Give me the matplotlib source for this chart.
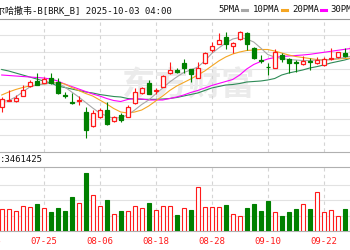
import matplotlib
matplotlib.use("Agg")
import matplotlib.pyplot as plt
import matplotlib.transforms as mtransforms
from matplotlib.lines import Line2D
from matplotlib.patches import Rectangle

# daily bars 07-17 .. 09-26 (prices in USD, volume in millions of shares)
dates = ["07-17", "07-18", "07-21", "07-22", "07-23", "07-24", "07-25", "07-28", "07-29", "07-30",
         "07-31", "08-01", "08-04", "08-05", "08-06", "08-07", "08-08", "08-11", "08-12", "08-13",
         "08-14", "08-15", "08-18", "08-19", "08-20", "08-21", "08-22", "08-25", "08-26", "08-27",
         "08-28", "08-29", "09-02", "09-03", "09-04", "09-05", "09-08", "09-09", "09-10", "09-11",
         "09-12", "09-15", "09-16", "09-17", "09-18", "09-19", "09-22", "09-23", "09-24", "09-25",
         "09-26"]
opens = [473.4, 475.4, 475.3, 476.8, 479.8, 481.3, 480.6, 482.1, 481.1, 477.0,
         475.1, 475.45, 472.1, 467.8, 470.6, 472.6, 469.3, 471.1, 470.6, 474.6,
         477.6, 480.8, 478.45, 479.6, 483.6, 484.45, 486.6, 484.8, 482.1, 486.6,
         490.6, 492.4, 494.4, 491.8, 493.8, 495.8, 491.1, 487.6, 485.65, 485.1,
         489.1, 487.8, 487.1, 486.4, 487.2, 486.8, 486.1, 487.8, 488.4, 489.6,
         489.6]
highs = [476.5, 478.6, 477.1, 480.1, 481.6, 483.6, 482.4, 483.6, 482.1, 478.1,
         477.6, 476.8, 473.6, 472.6, 473.1, 475.1, 470.8, 471.6, 474.1, 479.1,
         479.6, 481.6, 479.1, 483.1, 487.1, 485.1, 487.8, 484.9, 487.1, 490.1,
         493.1, 495.8, 496.1, 493.1, 496.4, 496.1, 491.4, 489.1, 486.6, 490.8,
         489.6, 488.1, 487.6, 488.8, 488.1, 488.4, 488.6, 491.1, 490.15, 491.1,
         492.4]
lows = [472.1, 475.3, 475.1, 476.7, 479.6, 480.0, 480.55, 480.4, 477.4, 476.1,
        474.4, 474.1, 464.1, 467.6, 470.1, 468.2, 469.1, 469.1, 470.4, 474.5,
        477.4, 477.3, 477.4, 479.4, 483.4, 483.6, 483.6, 481.1, 482.05, 486.4,
        490.1, 492.3, 490.8, 489.6, 493.6, 490.6, 487.8, 486.6, 483.1, 485.05,
        487.1, 483.6, 484.1, 486.1, 484.6, 486.4, 485.8, 487.75, 488.1, 488.6,
        489.6]
closes = [475.9, 475.6, 476.3, 478.6, 481.1, 480.1, 481.9, 480.6, 477.8, 476.8,
          474.6, 475.6, 466.6, 471.6, 472.6, 468.3, 470.6, 469.6, 473.4, 478.1,
          479.1, 477.4, 478.6, 482.8, 484.6, 484.1, 485.1, 483.4, 485.1, 489.6,
          491.8, 493.6, 492.4, 492.8, 496.1, 492.4, 488.1, 487.45, 485.5, 490.1,
          487.8, 486.6, 486.6, 487.4, 487.0, 487.6, 487.8, 488.1, 490.1, 488.8,
          491.8]
volumes = [1.42, 1.42, 1.31, 1.61, 1.55, 1.78, 1.50, 1.24, 1.48, 1.31,
           2.20, 1.83, 3.77, 2.37, 1.61, 2.01, 1.11, 1.31, 1.31, 1.61,
           1.48, 1.83, 1.37, 1.65, 1.65, 1.05, 1.50, 1.37, 2.90, 1.57,
           1.59, 1.59, 1.72, 1.11, 1.00, 1.50, 1.76, 1.33, 1.98, 1.24,
           1.00, 1.26, 1.42, 1.76, 1.42, 2.53, 1.22, 1.35, 0.96, 1.42,
           1.31]
vol_up = [1, 1, 1, 1, 1, 0, 1, 0, 0, 0,
          0, 1, 0, 1, 1, 0, 1, 0, 1, 1,
          1, 0, 1, 1, 1, 0, 1, 0, 1, 1,
          1, 1, 0, 1, 1, 0, 0, 0, 0, 1,
          0, 0, 0, 1, 0, 1, 1, 1, 1, 0,
          0]
ma5 = [475.15, 475.45, 476.5, 478.0, 479.5, 480.1, 480.4, 480.6, 480.7, 479.5,
       478.0, 476.5, 474.85, 473.2, 471.7, 470.8, 470.1, 470.35, 471.1, 472.6,
       474.25, 475.6, 477.4, 479.2, 481.0, 482.5, 483.85, 484.6, 485.5, 487.3,
       489.55, 491.2, 492.7, 493.9, 494.35, 493.9, 493.0, 491.2, 489.25, 488.5,
       488.05, 487.75, 487.6, 487.45, 487.45, 487.6, 487.6, 487.75, 488.05, 488.35,
       488.8]
ma10 = [477.1, 478.0, 478.75, 479.35, 479.8, 480.1, 480.4, 480.7, 480.85, 480.4,
        479.35, 478.45, 477.55, 476.8, 475.6, 474.4, 473.05, 472.0, 471.7, 472.0,
        472.6, 473.8, 475.3, 476.8, 478.45, 479.8, 480.85, 481.9, 483.1, 484.3,
        485.8, 487.3, 488.5, 489.4, 490.0, 490.45, 490.6, 490.75, 490.75, 490.3,
        489.7, 489.1, 488.65, 488.35, 488.05, 487.75, 487.6, 487.75, 487.9, 488.05,
        488.2]
ma20 = [483.1, 482.95, 482.8, 482.65, 482.5, 482.35, 482.2, 481.9, 481.3, 480.4,
        479.65, 478.9, 478.15, 477.4, 476.8, 476.05, 475.45, 475.15, 475.75, 476.05,
        475.9, 475.6, 475.6, 475.6, 476.05, 476.5, 477.1, 477.85, 478.45, 479.2,
        479.95, 480.55, 481.15, 481.75, 483.1, 484.9, 486.25, 487.15, 487.9, 488.35,
        488.65, 488.8, 488.95, 489.1, 489.3, 489.6, 489.9, 490.2, 490.5, 490.8,
        491.1]
ma30 = [484.75, 484.3, 483.7, 483.1, 482.5, 481.9, 481.3, 480.7, 479.8, 479.35,
        478.9, 478.45, 478.0, 477.7, 477.25, 476.95, 476.65, 476.5, 476.05, 475.9,
        475.8, 475.8, 475.8, 475.9, 476.05, 476.35, 476.8, 477.25, 477.7, 478.45,
        479.2, 479.65, 480.1, 480.25, 480.55, 481.0, 481.15, 481.3, 481.6, 482.05,
        483.1, 483.7, 484.15, 484.6, 485.2, 485.6, 486.1, 486.7, 487.15, 487.6,
        488.2]
tick_labels = ["07-15", "07-25", "08-06", "08-18", "08-28", "09-10", "09-22"]
ma_names = ["5PMA", "10PMA", "20PMA", "30PMA"]
title = "伯克希尔哈撒韦-B[BRK_B] 2025-10-03 04:00"
vol_text = ":3461425"

RED = "#ff1a1a"
GREEN = "#008000"
ma_colors = ["#a8a8a8", "#f5a623", "#ff00ff", "#2e8b57"]
FONT = ["DejaVu Sans Mono", "Noto Sans CJK SC"]
FS = 6.5

W, H = 350, 250


def box(x0, y0, x1, y1):
    return [x0 / W, 1 - y1 / H, (x1 - x0) / W, (y1 - y0) / H]


fig = plt.figure(figsize=(3.5, 2.5), dpi=100)
ax = fig.add_axes(box(0, 19, 350, 152))
axv = fig.add_axes(box(0, 167, 350, 231))

n = len(dates)
xs = list(range(n))
tick_pos = list(range(-2, n, 8))
xlim = (-0.243, 49.757)

# price panel
for i in xs:
    up = closes[i] >= opens[i]
    c = RED if up else GREEN
    ax.vlines(i, lows[i], highs[i], color=c, lw=0.8, zorder=3)
    lo = min(opens[i], closes[i])
    h = max(abs(closes[i] - opens[i]), 0.05)
    ax.add_patch(Rectangle((i - 0.3, lo), 0.6, h, facecolor="white" if up else GREEN,
                           edgecolor=c, lw=0.9, zorder=4))
for vals, col in zip([ma30, ma20, ma10, ma5], ma_colors[::-1]):
    ax.plot(xs, vals, color=col, lw=0.8, zorder=2)

ax.set_xlim(*xlim)
ax.set_ylim(460, 499.9)
ax.set_yticks(range(465, 500, 5))
ax.yaxis.grid(True, color="#e2e2e2", lw=0.8)
ax.set_axisbelow(True)
ax.text(188 / W, 1 - 86 / H, "东方财富", transform=fig.transFigure, ha="center", va="center",
        fontsize=24, fontweight="bold", color="#ebebeb", family="Noto Sans CJK SC", zorder=1)

# volume panel
axv.bar(xs, volumes, width=0.62,
        color=["white" if u else GREEN for u in vol_up],
        edgecolor=[RED if u else GREEN for u in vol_up], lw=0.8, zorder=3)
axv.set_xlim(*xlim)
axv.set_ylim(0, 4.18)
axv.set_yticks([1, 2, 3])
axv.yaxis.grid(True, color="#e2e2e2", lw=0.8)
axv.set_axisbelow(True)

for a in (ax, axv):
    for p in tick_pos:
        a.axvline(p, color="#d4d4d4", lw=0.8, ls=(0, (3, 3)), zorder=1)
    a.tick_params(left=False, labelleft=False, bottom=False, labelbottom=False)
    a.spines["left"].set_visible(False)
    a.spines["right"].set_visible(False)
    for s in ("top", "bottom"):
        a.spines[s].set_color("#b0b0b0")
        a.spines[s].set_linewidth(0.8)
ax.spines["top"].set_color("#999999")

trans = mtransforms.blended_transform_factory(axv.transData, axv.transAxes)
for p, lab in zip(tick_pos, tick_labels):
    axv.text(p, -10 / 64, lab, transform=trans, ha="center", va="center", color=RED,
             fontsize=FS, family=FONT, clip_on=False)

# header texts
fig.text(-31 / W, 1 - 10 / H, title, ha="left", va="center", fontsize=FS, family=FONT, color="#111111")
fig.text(0, 1 - 160 / H, vol_text, ha="left", va="center", fontsize=FS, family=FONT, color="#111111")

leg_x = [218, 253, 292, 330]
for name, col, x0 in zip(ma_names, ma_colors, leg_x):
    fig.text(x0 / W, 1 - 10 / H, name, ha="left", va="center", fontsize=FS, family=FONT, color="#111111")
    bx = x0 + len(name) * 5.45 + 2
    fig.add_artist(Line2D([bx / W, (bx + 5) / W], [1 - 10 / H] * 2, color=col, lw=2.2,
                          transform=fig.transFigure))

fig.savefig("out.png", dpi=100)
